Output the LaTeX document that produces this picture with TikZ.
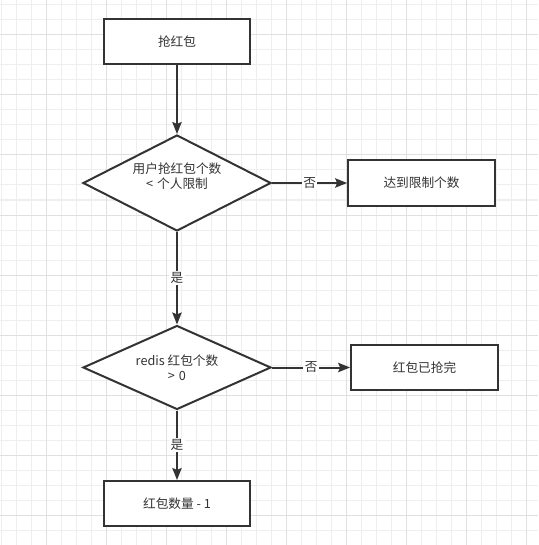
\documentclass[tikz,border=0pt]{standalone}
\usepackage{fontspec}
\newfontfamily\cjk{Noto Sans CJK SC}
\usetikzlibrary{shapes.geometric, arrows.meta, positioning}
\definecolor{ink}{HTML}{333333}
\definecolor{gridminor}{HTML}{EEEEEE}
\definecolor{gridmajor}{HTML}{E0E0E0}

\begin{document}
\begin{tikzpicture}[x=0.75pt, y=-0.75pt,
    box/.style={rectangle, draw=ink, line width=1.5pt, fill=white, text=ink,
                minimum width=110pt, minimum height=33.75pt, align=center,
                font=\cjk\fontsize{9.5pt}{11.25pt}\selectfont},
    decide/.style={diamond, draw=ink, line width=1.5pt, fill=white, text=ink,
                inner sep=0pt, minimum width=141pt, align=center,
                font=\cjk\fontsize{9.5pt}{11.25pt}\selectfont},
    flow/.style={-{Stealth[length=9pt, width=7pt, inset=1.5pt]}, line width=1.5pt, draw=ink},
    tag/.style={fill=white, inner sep=1pt, text=ink, font=\cjk\fontsize{9.5pt}{11.25pt}\selectfont}]

    % Canvas and grid
    \fill[white] (0,0) rectangle (538,545);
    \useasboundingbox (0,0) rectangle (538,545);
    \foreach \gx in {1,16,...,536} \draw[gridminor, line width=0.75pt] (\gx,0) -- (\gx,545);
    \foreach \gy in {5,20,...,545} \draw[gridminor, line width=0.75pt] (0,\gy) -- (538,\gy);
    \foreach \gx in {46,106,...,526} \draw[gridmajor, line width=0.75pt] (\gx,0) -- (\gx,545);
    \foreach \gy in {35,95,...,515} \draw[gridmajor, line width=0.75pt] (0,\gy) -- (538,\gy);

    % Start
    \node[box] (grab) at (177, 41.5) {抢红包};

    % Decisions
    \node[decide, aspect=1.96, minimum height=72pt] (limitchk) at (177, 183) {用户抢红包个数\\<\hspace{3pt}个人限制\\\mbox{}};
    \node[decide, aspect=2.24, minimum height=63pt] (stockchk) at (177, 367.5) {redis 红包个数\\>\hspace{3pt}0};

    % Outcomes
    \node[box] (reached) at (421.5, 183) {达到限制个数};
    \node[box] (soldout) at (424.5, 367.5) {红包已抢完};
    \node[box] (decr) at (177, 503.5) {红包数量 - 1};

    % Arrows
    \draw[flow] (grab) -- (limitchk);
    \draw[flow] (limitchk) -- node[tag]{否} (reached);
    \draw[flow] (limitchk) -- node[tag]{是} (stockchk);
    \draw[flow] (stockchk) -- node[tag]{否} (soldout);
    \draw[flow] (stockchk) -- node[tag]{是} (decr);
\end{tikzpicture}
\end{document}
